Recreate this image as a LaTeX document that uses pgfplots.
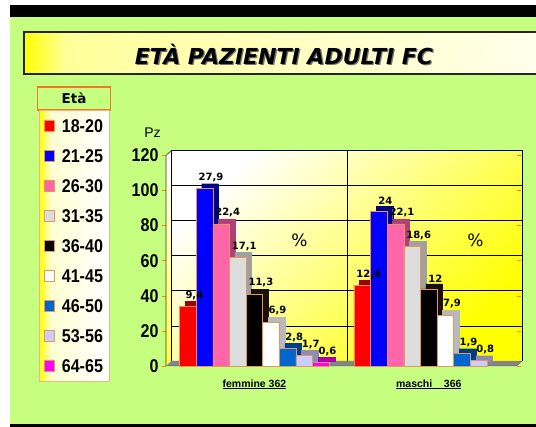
\documentclass[border=0pt]{standalone}
\usepackage{pgfplots}
\usepackage{pgfplotstable}
\pgfplotsset{compat=1.18}
\usepackage{fontspec}
\setmainfont{DejaVu Sans}
\newfontfamily\arialn[FakeStretch=0.87]{Liberation Sans}
\newfontfamily\arial{Liberation Sans}
\usetikzlibrary{shadings}

\definecolor{bggreen}{RGB}{198,255,128}
\definecolor{c1}{RGB}{255,0,0}
\definecolor{c2}{RGB}{0,0,255}
\definecolor{c3}{RGB}{255,102,170}
\definecolor{c4}{RGB}{221,221,221}
\definecolor{c5}{RGB}{0,0,0}
\definecolor{c6}{RGB}{255,255,255}
\definecolor{c7}{RGB}{0,102,204}
\definecolor{c8}{RGB}{204,204,255}
\definecolor{c9}{RGB}{255,0,255}
\definecolor{d1}{RGB}{160,0,0}
\definecolor{d2}{RGB}{0,0,130}
\definecolor{d3}{RGB}{176,64,120}
\definecolor{d4}{RGB}{160,160,160}
\definecolor{d5}{RGB}{25,15,5}
\definecolor{d6}{RGB}{185,185,185}
\definecolor{d7}{RGB}{0,60,140}
\definecolor{d8}{RGB}{140,140,180}
\definecolor{d9}{RGB}{170,0,170}
\definecolor{baredge}{RGB}{230,150,90}
\definecolor{legborder}{RGB}{240,180,130}
\definecolor{hdrborder}{RGB}{240,120,40}

\pgfdeclarehorizontalshading{legshade}{100bp}{color(0bp)=(yellow); color(25bp)=(yellow); color(33bp)=(yellow!18!white); color(75bp)=(white); color(100bp)=(white)}
\pgfdeclarehorizontalshading{titleshade}{100bp}{color(0bp)=(yellow); color(25bp)=(yellow); color(29bp)=(yellow!40!white); color(50bp)=(yellow!25!white); color(75bp)=(yellow!8!white); color(100bp)=(white)}

% x: 0 = femmine 362, 1 = maschi 366; y = Pz; l = %
\pgfplotstableread{
x y l
0 34 9,4
1 46 12,6
}\tA
\pgfplotstableread{
x y l
0 101 27,9
1 88 24
}\tB
\pgfplotstableread{
x y l
0 81 22,4
1 81 22,1
}\tC
\pgfplotstableread{
x y l
0 62 17,1
1 68 18,6
}\tD
\pgfplotstableread{
x y l
0 41 11,3
1 44 12
}\tE
\pgfplotstableread{
x y l
0 25 6,9
1 29 7,9
}\tF
\pgfplotstableread{
x y l
0 10 2,8
1 7 1,9
}\tG
\pgfplotstableread{
x y l
0 6 1,7
1 3 0,8
}\tH
\pgfplotstableread{
x y l
0 2 0,6
}\tI

\newcommand{\tbar}[5]{%
  \addplot[fill=#2, draw=#2, bar shift=#3, xshift=5.5pt, yshift=5pt, forget plot] table[x=x,y=y,meta=l] {#4};
  \addplot[fill=#1, draw=baredge, line width=0.5pt, bar shift=#3, legsq] table[x=x,y=y,meta=l] {#4};
  \addlegendentry{#5}
}
\newcommand{\tlab}[2]{%
  \addplot[draw=none, fill=none, bar shift=#1, nodes near coords, forget plot] table[x=x,y=y,meta=l] {#2};
}

\begin{document}
\begin{tikzpicture}
\useasboundingbox (0,0) rectangle (536pt,427pt);
\fill[white] (0,0) rectangle (536pt,427pt);
\fill[bggreen] (10pt,0pt) rectangle (536pt,410pt);
\fill[black] (10pt,410pt) rectangle (536pt,422pt);
\fill[black] (10pt,0pt) rectangle (536pt,2.5pt);
% title box
\shade[shading=titleshade] (24pt,353pt) rectangle (536pt,395pt);
\draw[black!85, line width=1.3pt] (537pt,395pt) -- (24pt,395pt) -- (24pt,353pt) -- (537pt,353pt);
\node[text=black!55, font=\bfseries\itshape\fontsize{22}{22}\selectfont] at (285.3pt,371.8pt) {ETÀ PAZIENTI ADULTI FC};
\node[text=black, font=\bfseries\itshape\fontsize{22}{22}\selectfont] at (284pt,373pt) {ETÀ PAZIENTI ADULTI FC};
% legend header
\node[draw=hdrborder, line width=1.3pt, fill=bggreen, minimum width=73pt, minimum height=23pt, inner sep=0pt, font=\bfseries\fontsize{13.5}{13.5}\selectfont] at (74pt,328.5pt) {Età};
% y label
\node[font=\arial\fontsize{14}{14}\selectfont] at (152.5pt,294pt) {Pz};

\begin{axis}[
  at={(171.5pt,66pt)}, anchor=south west,
  scale only axis, width=350.5pt, height=210.6pt,
  xmin=-0.507, xmax=1.503, ymin=0, ymax=120,
  clip=false,
  ybar, bar width=16.63pt,
  axis line style={draw=none},
  axis background/.style={shade, top color=white, bottom color=yellow, shading angle=45, xshift=5.5pt, yshift=5pt},
  ymajorgrids, major grid style={black, line width=0.6pt, xshift=5.5pt, yshift=5pt},
  ytick={0,20,...,120},
  xtick={0,1},
  xticklabels={\underline{femmine 362}, \underline{maschi\ \ \ \ 366}},
  xtick style={draw=none},
  ytick style={draw=orange, line width=0.5pt},
  tick align=outside, major tick length=4pt,
  /pgf/number format/assume math mode=true,
  yticklabel style={font=\arialn\bfseries\fontsize{18.5}{18.5}\selectfont},
  xticklabel style={font=\arial\bfseries\fontsize{10.5}{10.5}\selectfont, yshift=-6pt},
  point meta=explicit symbolic,
  every node near coord/.append style={font=\bfseries\fontsize{10}{10}\selectfont, text=black, xshift=6.5pt, yshift=5.5pt, inner sep=1pt},
  legsq/.style={legend image code/.code={\draw[##1, draw=baredge, line width=0.5pt] (0pt,-5.5pt) rectangle (10pt,5.5pt);}},
  legend style={
    at={(axis description cs:-0.378,1.1918)}, anchor=north west,
    draw=legborder, line width=0.6pt,
    shade, shading=legshade,
    inner xsep=5pt, inner ysep=8pt,
    row sep=15pt, column sep=6pt,
    font=\arialn\bfseries\fontsize{18.5}{18.5}\selectfont,
    nodes={inner sep=1pt, text height=13pt, text depth=0pt},
  },
  legend cell align=left,
]
% left wall
\shade[top color=white, bottom color=yellow!75] (rel axis cs:0,0) -- ([xshift=5.5pt,yshift=5pt]rel axis cs:0,0) -- ([xshift=5.5pt,yshift=5pt]rel axis cs:0,1) -- (rel axis cs:0,1) -- cycle;
\draw[black!80, line width=0.6pt] (rel axis cs:0,0) -- (rel axis cs:0,1) -- ([xshift=5.5pt,yshift=5pt]rel axis cs:0,1);
% floor
\fill[black!48] (rel axis cs:0,0) -- (rel axis cs:1,0) -- ([xshift=5.5pt,yshift=5pt]rel axis cs:1,0) -- ([xshift=5.5pt,yshift=5pt]rel axis cs:0,0) -- cycle;
\draw[black!60, line width=0.5pt] (rel axis cs:0,0) -- (rel axis cs:1,0) -- ([xshift=5.5pt,yshift=5pt]rel axis cs:1,0);
% back wall frame and divider
\draw[black, line width=0.6pt] ([xshift=5.5pt,yshift=5pt]rel axis cs:0,0) -- ([xshift=5.5pt,yshift=5pt]rel axis cs:0,1) -- ([xshift=5.5pt,yshift=5pt]rel axis cs:1,1) -- ([xshift=5.5pt,yshift=5pt]rel axis cs:1,0);
\draw[black, line width=0.6pt] ([xshift=5.5pt,yshift=5pt]axis cs:0.5,0) -- ([xshift=5.5pt,yshift=5pt]axis cs:0.5,120);

\tbar{c1}{d1}{-66.52pt}{\tA}{18-20}
\tbar{c2}{d2}{-49.89pt}{\tB}{21-25}
\tbar{c3}{d3}{-33.26pt}{\tC}{26-30}
\tbar{c4}{d4}{-16.63pt}{\tD}{31-35}
\tbar{c5}{d5}{0pt}{\tE}{36-40}
\tbar{c6}{d6}{16.63pt}{\tF}{41-45}
\tbar{c7}{d7}{33.26pt}{\tG}{46-50}
\tbar{c8}{d8}{49.89pt}{\tH}{53-56}
\tbar{c9}{d9}{66.52pt}{\tI}{64-65}

\tlab{-66.52pt}{\tA}
\tlab{-49.89pt}{\tB}
\tlab{-33.26pt}{\tC}
\tlab{-16.63pt}{\tD}
\tlab{0pt}{\tE}
\tlab{16.63pt}{\tF}
\tlab{33.26pt}{\tG}
\tlab{49.89pt}{\tH}
\tlab{66.52pt}{\tI}

\node[font=\fontsize{17}{17}\selectfont] at (axis cs:0.259,71.8) {\%};
\node[font=\fontsize{17}{17}\selectfont] at (axis cs:1.268,71.8) {\%};
\end{axis}
\end{tikzpicture}
\end{document}
